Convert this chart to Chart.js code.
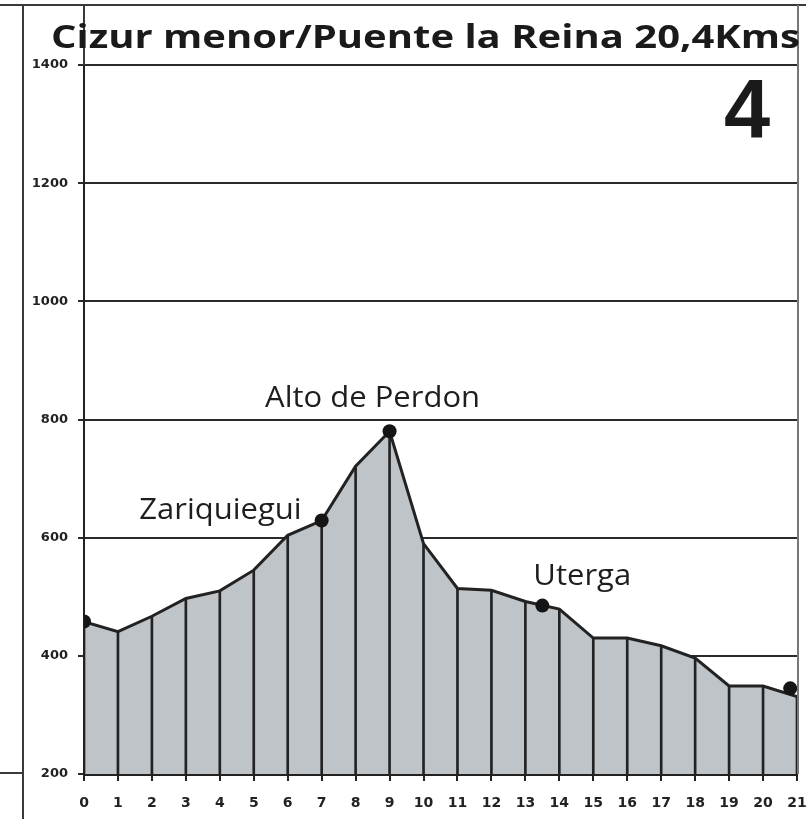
<!DOCTYPE html>
<html>
<head>
<meta charset="utf-8">
<script src="https://cdn.jsdelivr.net/npm/chart.js@4/dist/chart.umd.min.js"></script>
<style>
  html, body { margin: 0; padding: 0; background: #ffffff; }
  canvas { display: block; }
</style>
</head>
<body>
<canvas id="c" width="806" height="819"></canvas>
<script>
// ---- data ----
const titleText = 'Cizur menor/Puente la Reina 20,4Kms';
const stageNumber = '4';
const kms = [0, 1, 2, 3, 4, 5, 6, 7, 8, 9, 10, 11, 12, 13, 14, 15, 16, 17, 18, 19, 20, 21];
const elevations = [458, 441, 467, 497, 510, 545, 604, 629, 721, 780, 590, 514, 511, 492, 479, 430, 430, 417, 396, 349, 349, 331];
const placeKms = [0, 7, 9, 13.5, 20.8];
const placeElevations = [458, 629, 780, 485, 345];
const placeNames = ['', 'Zariquiegui', 'Alto de Perdon', 'Uterga', ''];
const yMin = 200, yMax = 1400, yStep = 200;
const xMin = 0, xMax = 21, xStep = 1;

const profilePoints = kms.map((k, i) => ({ x: k, y: elevations[i] }));
const placePoints = placeKms.map((k, i) => ({ x: k, y: placeElevations[i] }));

const INK = '#1e1e1e';

// label offsets relative to the marker (style, not data)
const labelStyle = {
  'Zariquiegui': { align: 'right', dx: -20, dy: -2 },
  'Alto de Perdon': { align: 'center', dx: -17, dy: -24 },
  'Uterga': { align: 'left', dx: -9, dy: -21 }
};

const decorPlugin = {
  id: 'decor',
  beforeDraw(chart) {
    const ctx = chart.ctx;
    ctx.save();
    ctx.fillStyle = '#ffffff';
    ctx.fillRect(0, 0, chart.width, chart.height);
    ctx.restore();
  },
  afterDraw(chart) {
    const ctx = chart.ctx;
    const a = chart.chartArea;
    const xs = chart.scales.x, ys = chart.scales.y;
    ctx.save();
    // frame lines
    ctx.strokeStyle = '#3a3a3a';
    ctx.lineWidth = 2;
    ctx.beginPath();
    ctx.moveTo(0, 5); ctx.lineTo(chart.width, 5);
    ctx.moveTo(23, 5); ctx.lineTo(23, chart.height);
    ctx.moveTo(0, 773); ctx.lineTo(23, 773);
    ctx.moveTo(a.left, 5); ctx.lineTo(a.left, a.top);
    ctx.stroke();
    ctx.strokeStyle = '#777777';
    ctx.beginPath();
    ctx.moveTo(a.right + 1, 5); ctx.lineTo(a.right + 1, a.bottom);
    ctx.stroke();

    // title
    ctx.fillStyle = '#1a1a1a';
    ctx.font = 'bold 33px "Open Sans", "Liberation Sans", sans-serif';
    ctx.textBaseline = 'alphabetic';
    ctx.textAlign = 'left';
    const tw = ctx.measureText(titleText).width;
    const target = 749;
    ctx.save();
    ctx.translate(51, 48);
    ctx.scale(target / tw, 1);
    ctx.fillText(titleText, 0, 0);
    ctx.restore();

    // stage number
    ctx.font = 'bold 83px "Liberation Sans", Arial, sans-serif';
    ctx.textAlign = 'center';
    ctx.fillText(stageNumber, 747, 138);

    // place labels
    ctx.font = '30px "Open Sans", "Liberation Sans", sans-serif';
    const ref = ctx.measureText('Alto de Perdon').width;
    const sx = 215 / ref;
    placeNames.forEach((name, i) => {
      if (!name) return;
      const st = labelStyle[name] || { align: 'center', dx: 0, dy: -20 };
      const px = xs.getPixelForValue(placeKms[i]) + st.dx;
      const py = ys.getPixelForValue(placeElevations[i]) + st.dy;
      ctx.save();
      ctx.translate(px, py);
      ctx.scale(sx, 1);
      ctx.textAlign = st.align;
      ctx.fillStyle = INK;
      ctx.fillText(name, 0, 0);
      ctx.restore();
    });
    ctx.restore();
  }
};

new Chart(document.getElementById('c'), {
  data: {
    datasets: [
      {
        type: 'scatter',
        data: placePoints,
        pointRadius: 7,
        pointHoverRadius: 7,
        pointBackgroundColor: '#151515',
        pointBorderWidth: 0,
        showLine: false,
        order: 0
      },
      {
        type: 'line',
        data: profilePoints,
        borderColor: '#222222',
        borderWidth: 3,
        backgroundColor: '#bfc4c9',
        fill: 'start',
        pointRadius: 0,
        tension: 0,
        order: 1
      },
      {
        type: 'bar',
        data: profilePoints,
        backgroundColor: '#222222',
        barThickness: 2,
        grouped: false,
        order: 2
      }
    ]
  },
  options: {
    responsive: false,
    animation: false,
    devicePixelRatio: 1,
    layout: { padding: { top: 65, right: 9, bottom: 0, left: 0 } },
    plugins: {
      legend: { display: false },
      tooltip: { enabled: false },
      title: { display: false },
      filler: { drawTime: 'beforeDatasetsDraw' }
    },
    scales: {
      x: {
        type: 'linear',
        min: xMin,
        max: xMax,
        offset: false,
        z: 1,
        afterFit(s) { s.height = 45; s.paddingLeft = 0; s.paddingRight = 0; },
        ticks: {
          stepSize: xStep,
          autoSkip: false,
          maxRotation: 0,
          color: '#222222',
          padding: 14,
          callback: (v) => String(v),
          font: { family: '"DejaVu Sans", sans-serif', weight: 'bold', size: 14 }
        },
        grid: { offset: false, drawOnChartArea: false, drawTicks: true, tickLength: 7, color: '#222222', lineWidth: 2 },
        border: { display: true, color: '#222222', width: 3 }
      },
      y: {
        type: 'linear',
        min: yMin,
        max: yMax,
        afterFit(s) { s.width = 84; s.paddingTop = 0; s.paddingBottom = 0; },
        ticks: {
          stepSize: yStep,
          color: '#222222',
          padding: 10,
          callback: (v) => String(v),
          font: { family: '"DejaVu Sans", sans-serif', weight: 'bold', size: 13 }
        },
        grid: { color: '#2a2a2a', lineWidth: 2, tickLength: 6 },
        border: { display: true, color: '#222222', width: 2 }
      }
    }
  },
  plugins: [decorPlugin]
});
</script>
</body>
</html>
